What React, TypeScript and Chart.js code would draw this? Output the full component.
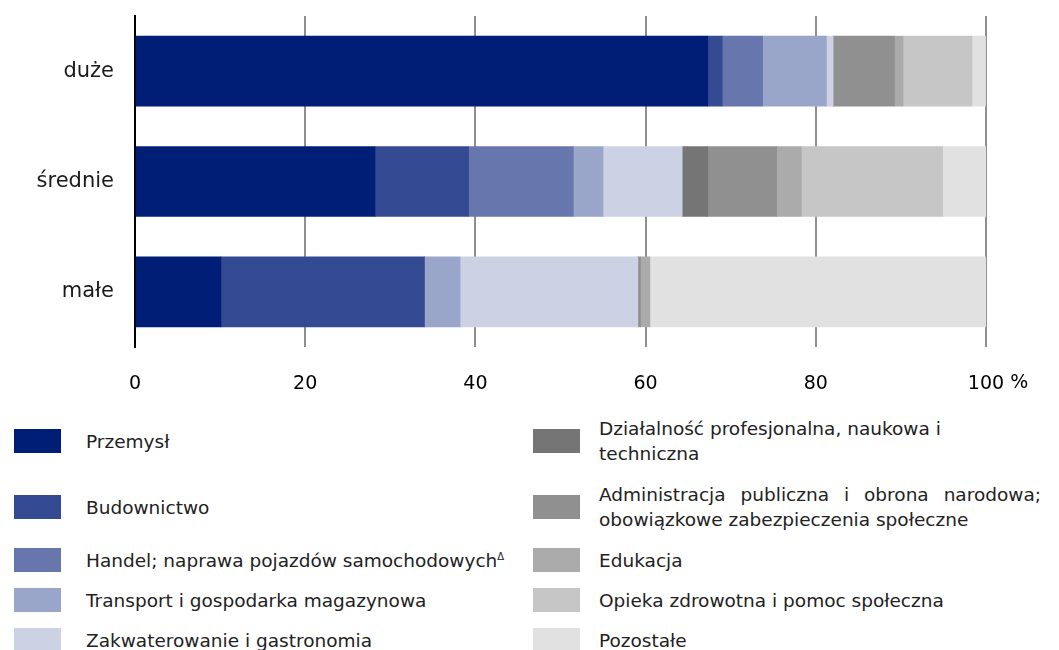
import React, { useEffect, useRef } from "react";
import { Chart, registerables } from "chart.js";

Chart.register(...registerables);

const categories = ["duże", "średnie", "małe"];
const seriesNames = [
  "Przemysł",
  "Budownictwo",
  "Handel; naprawa pojazdów samochodowych\u0394",
  "Transport i gospodarka magazynowa",
  "Zakwaterowanie i gastronomia",
  "Działalność profesjonalna, naukowa i techniczna",
  "Administracja publiczna i obrona narodowa; obowiązkowe zabezpieczenia społeczne",
  "Edukacja",
  "Opieka zdrowotna i pomoc społeczna",
  "Pozostałe",
];
const przemysl = [67.3, 28.2, 10.1];
const budownictwo = [1.7, 11.0, 23.9];
const handel = [4.75, 12.3, 0];
const transport = [7.5, 3.5, 4.2];
const zakwaterowanie = [0.8, 9.3, 20.9];
const dzialalnosc = [0, 3.0, 0];
const administracja = [7.2, 8.1, 0.3];
const edukacja = [1.0, 2.9, 1.1];
const opieka = [8.1, 16.6, 0];
const pozostale = [1.6, 5.1, 39.5];
const xTicks = [0, 20, 40, 60, 80, 100];
const unitLabel = "%";

const seriesValues = [
  przemysl, budownictwo, handel, transport, zakwaterowanie,
  dzialalnosc, administracja, edukacja, opieka, pozostale,
];
const colors = [
  "#001E76", "#344A93", "#6776AD", "#99A5C9", "#CCD2E4",
  "#757575", "#909090", "#ABABAB", "#C6C6C6", "#E1E1E1",
];

const FONT = "'DejaVu Sans', sans-serif";
const TICK_SIZE = 19;

// legend placement (layout only)
const legendTops = [441, 507, 560, 600, 640];

const unitPlugin = {
  id: "unitPlugin",
  afterDraw(chart: any) {
    const s = chart.scales.x;
    const last = xTicks[xTicks.length - 1];
    const px = s.getPixelForValue(last);
    const ctx = chart.ctx;
    ctx.save();
    ctx.font = `${TICK_SIZE}px ${FONT}`;
    const w = ctx.measureText(String(last)).width;
    ctx.fillStyle = "#000";
    ctx.textAlign = "left";
    ctx.textBaseline = "middle";
    ctx.fillText(" " + unitLabel, px + w / 2, s.top + 36);
    ctx.restore();
  },
};

export default function App() {
  const ref = useRef<HTMLCanvasElement | null>(null);
  useEffect(() => {
    if (!ref.current) return;
    const chart = new Chart(ref.current, {
      type: "bar",
      data: {
        labels: categories,
        datasets: seriesNames.map((n, i) => ({
          label: n,
          data: seriesValues[i],
          backgroundColor: colors[i],
          borderWidth: 0,
          barThickness: 70,
        })),
      },
      plugins: [unitPlugin],
      options: {
        indexAxis: "y",
        animation: false,
        responsive: true,
        maintainAspectRatio: false,
        layout: { padding: { top: 8, right: 65, left: 0, bottom: 0 } },
        plugins: { legend: { display: false }, tooltip: { enabled: false } },
        scales: {
          x: {
            stacked: true,
            min: 0,
            max: 100,
            afterBuildTicks: (s: any) => {
              s.ticks = xTicks.map((v) => ({ value: v }));
            },
            afterFit: (s: any) => {
              s.height = 56;
              s.paddingLeft = 0;
              s.paddingRight = 0;
            },
            ticks: {
              color: "#000",
              font: { family: FONT, size: TICK_SIZE },
              padding: 26,
              maxRotation: 0,
              callback: (v: any) => String(v),
            },
            grid: { color: "#8f8f8f", lineWidth: 2, drawTicks: false },
            border: { display: false },
          },
          y: {
            stacked: true,
            afterFit: (s: any) => {
              s.width = 127;
              s.paddingTop = 0;
              s.paddingBottom = 0;
            },
            ticks: {
              color: "#1a1a1a",
              font: { family: FONT, size: 21 },
              padding: 21,
            },
            grid: { display: false, drawTicks: false },
            border: { display: true, color: "#000", width: 2 },
          },
        },
      },
    });
    return () => chart.destroy();
  }, []);

  return (
    <div style={{ position: "relative", width: 1043, height: 642, overflow: "visible" }}>
      <div style={{ position: "relative", width: 1043, height: 395 }}>
        <canvas ref={ref} />
      </div>
      {seriesNames.map((n, i) => {
        const col = i < 5 ? 0 : 1;
        const row = i % 5;
        const cy = legendTops[row] - 8;
        const swLeft = col === 0 ? 6 : 525;
        const txLeft = col === 0 ? 78 : 591;
        const txWidth = col === 0 ? 440 : 442;
        return (
          <React.Fragment key={n}>
            <div
              style={{
                position: "absolute",
                left: swLeft,
                top: cy - 12,
                width: 47,
                height: 24,
                background: colors[i],
              }}
            />
            <div
              style={{
                position: "absolute",
                left: txLeft,
                top: cy,
                transform: "translateY(-50%)",
                width: txWidth,
                fontFamily: FONT,
                fontSize: 18.5,
                lineHeight: "25px",
                color: "#222",
                textAlign: i === 6 ? "justify" : "left",
                textAlignLast: "left",
              }}
            >
              {i === 2 ? (
                <>
                  Handel; naprawa pojazdów samochodowych
                  <sup style={{ fontSize: 10, verticalAlign: "top", lineHeight: "18px" }}>{"\u0394"}</sup>
                </>
              ) : (
                n
              )}
            </div>
          </React.Fragment>
        );
      })}
    </div>
  );
}
